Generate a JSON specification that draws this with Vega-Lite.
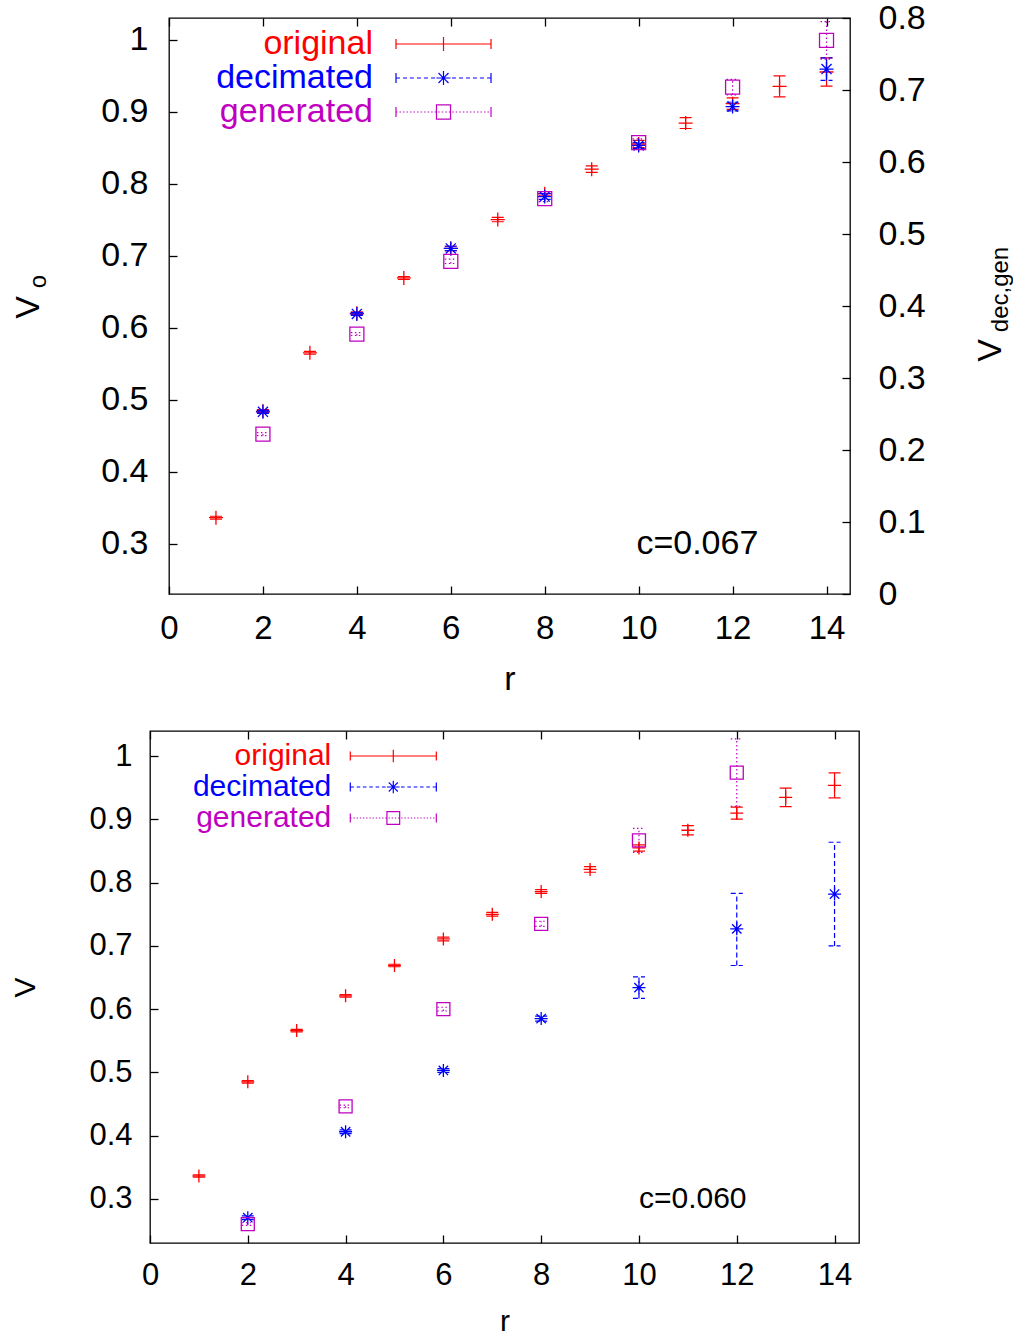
{
  "$schema": "https://vega.github.io/schema/vega-lite/v6.json",
  "padding": {"left": 9, "top": 0, "right": 0, "bottom": 0},
  "config": {
    "font": "Liberation Sans",
    "view": {"stroke": "#000000", "strokeWidth": 1.3},
    "axis": {"grid": false, "domain": false, "labelFlush": false, "labelOverlap": false, "labelColor": "#000000", "titleColor": "#000000", "tickColor": "#000000", "tickWidth": 1.3, "titleFontWeight": "normal", "labelFont": "Liberation Sans", "titleFont": "Liberation Sans"},
    "legend": {"labelFont": "Liberation Sans"},
    "text": {"font": "Liberation Sans"}
  },
  "datasets": {
    "top": [
      {"series": "original", "r": 1, "v": 0.336, "lo": 0.334, "hi": 0.338},
      {"series": "original", "r": 2, "v": 0.484, "lo": 0.482, "hi": 0.486},
      {"series": "original", "r": 3, "v": 0.565, "lo": 0.563, "hi": 0.567},
      {"series": "original", "r": 4, "v": 0.620, "lo": 0.618, "hi": 0.622},
      {"series": "original", "r": 5, "v": 0.669, "lo": 0.667, "hi": 0.671},
      {"series": "original", "r": 6, "v": 0.710, "lo": 0.707, "hi": 0.713},
      {"series": "original", "r": 7, "v": 0.750, "lo": 0.747, "hi": 0.753},
      {"series": "original", "r": 8, "v": 0.786, "lo": 0.783, "hi": 0.789},
      {"series": "original", "r": 9, "v": 0.820, "lo": 0.8155, "hi": 0.8245},
      {"series": "original", "r": 10, "v": 0.855, "lo": 0.850, "hi": 0.860},
      {"series": "original", "r": 11, "v": 0.884, "lo": 0.8765, "hi": 0.8915},
      {"series": "original", "r": 12, "v": 0.911, "lo": 0.903, "hi": 0.919},
      {"series": "original", "r": 13, "v": 0.935, "lo": 0.9205, "hi": 0.9495},
      {"series": "original", "r": 14, "v": 0.955, "lo": 0.9355, "hi": 0.9745},
      {"series": "decimated", "r": 2, "v": 0.253, "lo": 0.251, "hi": 0.255},
      {"series": "decimated", "r": 4, "v": 0.389, "lo": 0.387, "hi": 0.391},
      {"series": "decimated", "r": 6, "v": 0.480, "lo": 0.477, "hi": 0.483},
      {"series": "decimated", "r": 8, "v": 0.552, "lo": 0.548, "hi": 0.556},
      {"series": "decimated", "r": 10, "v": 0.623, "lo": 0.619, "hi": 0.627},
      {"series": "decimated", "r": 12, "v": 0.677, "lo": 0.671, "hi": 0.683},
      {"series": "decimated", "r": 14, "v": 0.729, "lo": 0.7135, "hi": 0.7445},
      {"series": "generated", "r": 2, "v": 0.222, "lo": 0.220, "hi": 0.224},
      {"series": "generated", "r": 4, "v": 0.361, "lo": 0.359, "hi": 0.363},
      {"series": "generated", "r": 6, "v": 0.462, "lo": 0.459, "hi": 0.465},
      {"series": "generated", "r": 8, "v": 0.549, "lo": 0.545, "hi": 0.553},
      {"series": "generated", "r": 10, "v": 0.627, "lo": 0.622, "hi": 0.632},
      {"series": "generated", "r": 12, "v": 0.704, "lo": 0.6933, "hi": 0.7147},
      {"series": "generated", "r": 14, "v": 0.769, "lo": 0.743, "hi": 0.795}
    ],
    "bottom": [
      {"series": "original", "r": 1, "v": 0.336, "lo": 0.334, "hi": 0.338},
      {"series": "original", "r": 2, "v": 0.485, "lo": 0.483, "hi": 0.487},
      {"series": "original", "r": 3, "v": 0.566, "lo": 0.564, "hi": 0.568},
      {"series": "original", "r": 4, "v": 0.621, "lo": 0.619, "hi": 0.623},
      {"series": "original", "r": 5, "v": 0.669, "lo": 0.667, "hi": 0.671},
      {"series": "original", "r": 6, "v": 0.711, "lo": 0.708, "hi": 0.714},
      {"series": "original", "r": 7, "v": 0.750, "lo": 0.747, "hi": 0.753},
      {"series": "original", "r": 8, "v": 0.786, "lo": 0.783, "hi": 0.789},
      {"series": "original", "r": 9, "v": 0.821, "lo": 0.8165, "hi": 0.8255},
      {"series": "original", "r": 10, "v": 0.855, "lo": 0.850, "hi": 0.860},
      {"series": "original", "r": 11, "v": 0.883, "lo": 0.8756, "hi": 0.8904},
      {"series": "original", "r": 12, "v": 0.910, "lo": 0.9005, "hi": 0.9195},
      {"series": "original", "r": 13, "v": 0.935, "lo": 0.9203, "hi": 0.9497},
      {"series": "original", "r": 14, "v": 0.954, "lo": 0.9343, "hi": 0.9737},
      {"series": "decimated", "r": 2, "v": 0.270, "lo": 0.267, "hi": 0.273},
      {"series": "decimated", "r": 4, "v": 0.406, "lo": 0.403, "hi": 0.409},
      {"series": "decimated", "r": 6, "v": 0.503, "lo": 0.500, "hi": 0.506},
      {"series": "decimated", "r": 8, "v": 0.585, "lo": 0.581, "hi": 0.589},
      {"series": "decimated", "r": 10, "v": 0.634, "lo": 0.617, "hi": 0.651},
      {"series": "decimated", "r": 12, "v": 0.727, "lo": 0.669, "hi": 0.783},
      {"series": "decimated", "r": 14, "v": 0.782, "lo": 0.700, "hi": 0.864},
      {"series": "generated", "r": 2, "v": 0.260, "lo": 0.258, "hi": 0.262},
      {"series": "generated", "r": 4, "v": 0.446, "lo": 0.444, "hi": 0.448},
      {"series": "generated", "r": 6, "v": 0.600, "lo": 0.597, "hi": 0.603},
      {"series": "generated", "r": 8, "v": 0.735, "lo": 0.731, "hi": 0.739},
      {"series": "generated", "r": 10, "v": 0.867, "lo": 0.848, "hi": 0.886},
      {"series": "generated", "r": 12, "v": 0.974, "lo": 0.9206, "hi": 1.0274}
    ]
  },
  "spacing": 32,
  "resolve": {"scale": {"color": "independent"}, "legend": {"color": "independent"}},
  "vconcat": [
    {
      "spacing": 0,
      "resolve": {"scale": {"color": "independent"}, "legend": {"color": "independent"}},
      "hconcat": [
        {"width": 1, "height": 1, "data": {"values": []}, "mark": {"type": "rule", "opacity": 0}, "encoding": {}, "view": {"stroke": null}},
        {
          "width": 681,
          "height": 576,
          "data": {"name": "top"},
          "resolve": {"scale": {"y": "independent"}, "axis": {"x": "independent"}},
          "layer": [
            {
              "resolve": {"axis": {"y": "independent"}},
              "layer": [
                {
                  "transform": [{"filter": "datum.series == 'original'"}],
                  "mark": {"type": "rule", "strokeWidth": 1.2, "clip": true},
                  "encoding": {
                    "x": {"field": "r", "type": "quantitative", "scale": {"domain": [0, 14.5], "nice": false, "zero": false},
                      "axis": {"orient": "bottom", "values": [0, 2, 4, 6, 8, 10, 12, 14], "tickSize": -8, "labelPadding": 42, "labelBaseline": "middle", "labelFontSize": 33, "title": "r", "titleFontSize": 34, "titleY": 85, "titleBaseline": "middle"}},
                    "y": {"field": "lo", "type": "quantitative", "scale": {"domain": [0.23, 1.03], "nice": false, "zero": false},
                      "axis": {"orient": "left", "values": [0.3, 0.4, 0.5, 0.6, 0.7, 0.8, 0.9, 1], "format": "~g", "tickSize": -8, "labelPadding": 29, "labelFontSize": 34, "title": "V", "titleFontSize": 34, "titleAngle": -90, "titleX": -141, "titleY": 289, "titleAlign": "center", "titleBaseline": "middle"}},
                    "y2": {"field": "hi"},
                    "color": {"field": "series", "type": "nominal", "scale": {"domain": ["original", "decimated", "generated"], "range": ["#ff0000", "#0000ff", "#c000c0"]},
                      "legend": {
                        "orient": "none", "legendX": 257.5, "legendY": 9, "title": null, "padding": 0, "rowPadding": 0,
                        "symbolSize": 1024, "symbolStrokeWidth": 1.2, "symbolOffset": 0, "symbolOpacity": 1,
                        "labelAlign": "right", "labelOffset": -87.5, "labelFontSize": 34, "labelLimit": 500, "labelBaseline": "middle",
                        "encode": {
                          "labels": {"update": {"fill": {"signal": "datum.value == 'original' ? '#ff0000' : datum.value == 'decimated' ? '#0000ff' : '#c000c0'"}}},
                          "symbols": {"update": {
                            "shape": {"signal": "datum.value == 'original' ? 'M-2.97,0H2.97M-2.97,-0.31V0.31M2.97,-0.31V0.31M0,-0.44V0.44' : datum.value == 'decimated' ? 'M-2.97,0H-2.72M-2.53,0H-2.28M-2.1,0H-1.85M-1.66,0H-1.41M-1.22,0H-0.97M-0.78,0H-0.53M-0.35,0H-0.1M0.09,0H0.34M0.53,0H0.78M0.97,0H1.22M1.41,0H1.66M1.84,0H2.09M2.28,0H2.53M2.72,0H2.97M-2.97,-0.31V0.31M2.97,-0.31V0.31M-0.44,0H0.44M0,-0.44V0.44M-0.31,-0.31L0.31,0.31M-0.31,0.31L0.31,-0.31' : 'M-2.97,0H-2.88M-2.75,0H-2.66M-2.53,0H-2.44M-2.31,0H-2.22M-2.09,0H-2M-1.87,0H-1.78M-1.65,0H-1.56M-1.43,0H-1.34M-1.21,0H-1.12M-0.99,0H-0.9M-0.77,0H-0.68M-0.55,0H-0.46M-0.33,0H-0.24M-0.11,0H-0.02M0.11,0H0.2M0.33,0H0.42M0.55,0H0.64M0.77,0H0.86M0.99,0H1.08M1.21,0H1.3M1.43,0H1.52M1.65,0H1.74M1.87,0H1.96M2.09,0H2.18M2.31,0H2.4M2.53,0H2.62M2.75,0H2.84M-2.97,-0.31V0.31M2.97,-0.31V0.31M-0.44,-0.44H0.44V0.44H-0.44Z'"},
                            "stroke": {"signal": "datum.value == 'original' ? '#ff0000' : datum.value == 'decimated' ? '#0000ff' : '#c000c0'"},
                            "fill": {"value": "transparent"},
                            "opacity": {"value": 1},
                            "strokeDash": {"value": [1, 0]},
                            "strokeWidth": {"value": 1.2}
                          }}
                        }
                      }},
                    "strokeDash": {"field": "series", "type": "nominal", "scale": {"domain": ["generated", "original", "decimated"], "range": [[1.5, 2.5], [1, 0], [5, 3]]}, "legend": null}
                  }
                },
                {
                  "transform": [{"filter": "datum.series == 'original'"}],
                  "mark": {"type": "point", "shape": "M-1,0H1", "filled": false, "size": 144, "strokeWidth": 1.2, "opacity": 1},
                  "encoding": {
                    "x": {"field": "r", "type": "quantitative", "scale": {"domain": [0, 14.5], "nice": false, "zero": false}},
                    "y": {"field": "lo", "type": "quantitative", "scale": {"domain": [0.23, 1.03], "nice": false, "zero": false}, "axis": null},
                    "color": {"field": "series", "type": "nominal", "scale": {"domain": ["original", "decimated", "generated"], "range": ["#ff0000", "#0000ff", "#c000c0"]}},
                    "strokeDash": {"field": "series", "type": "nominal", "scale": {"domain": ["generated", "original", "decimated"], "range": [[1.5, 2.5], [1, 0], [5, 3]]}, "legend": null}
                  }
                },
                {
                  "transform": [{"filter": "datum.series == 'original'"}],
                  "mark": {"type": "point", "shape": "M-1,0H1", "filled": false, "size": 144, "strokeWidth": 1.2, "opacity": 1},
                  "encoding": {
                    "x": {"field": "r", "type": "quantitative", "scale": {"domain": [0, 14.5], "nice": false, "zero": false}},
                    "y": {"field": "hi", "type": "quantitative", "scale": {"domain": [0.23, 1.03], "nice": false, "zero": false}, "axis": null},
                    "color": {"field": "series", "type": "nominal", "scale": {"domain": ["original", "decimated", "generated"], "range": ["#ff0000", "#0000ff", "#c000c0"]}},
                    "strokeDash": {"field": "series", "type": "nominal", "scale": {"domain": ["generated", "original", "decimated"], "range": [[1.5, 2.5], [1, 0], [5, 3]]}, "legend": null}
                  }
                },
                {
                  "transform": [{"filter": "datum.series == 'original'"}],
                  "mark": {"type": "point", "filled": false, "size": 196, "strokeWidth": 1.3, "opacity": 1},
                  "encoding": {
                    "x": {"field": "r", "type": "quantitative", "scale": {"domain": [0, 14.5], "nice": false, "zero": false}},
                    "y": {"field": "v", "type": "quantitative", "scale": {"domain": [0.23, 1.03], "nice": false, "zero": false},
                      "axis": {"orient": "left", "labels": false, "ticks": false, "title": "o", "titleFontSize": 24, "titleAngle": -90, "titleX": -131, "titleY": 263, "titleAlign": "center", "titleBaseline": "middle"}},
                    "shape": {"field": "series", "type": "nominal", "scale": {"domain": ["decimated", "generated", "original"], "range": ["M-1,0H1M0,-1V1M-0.72,-0.72L0.72,0.72M-0.72,0.72L0.72,-0.72", "M-1,-1H1V1H-1Z", "M-1,0H1M0,-1V1"]}, "legend": null},
                    "color": {"field": "series", "type": "nominal", "scale": {"domain": ["original", "decimated", "generated"], "range": ["#ff0000", "#0000ff", "#c000c0"]}}
                  }
                },
                {
                  "data": {"values": [{"label": "c=0.067"}]},
                  "mark": {"type": "text", "fontSize": 34, "align": "center", "baseline": "middle", "color": "#000000"},
                  "encoding": {
                    "x": {"datum": 11.25, "type": "quantitative", "scale": {"domain": [0, 14.5], "nice": false, "zero": false}},
                    "y": {"datum": 0.3, "type": "quantitative", "scale": {"domain": [0.23, 1.03], "nice": false, "zero": false}, "axis": null},
                    "text": {"field": "label"}
                  }
                }
              ]
            },
            {
              "resolve": {"axis": {"y": "independent"}},
              "layer": [
                {
                  "transform": [{"filter": "datum.series != 'original'"}],
                  "mark": {"type": "rule", "strokeWidth": 1.2, "clip": true},
                  "encoding": {
                    "x": {"field": "r", "type": "quantitative", "scale": {"domain": [0, 14.5], "nice": false, "zero": false},
                      "axis": {"orient": "top", "values": [0, 2, 4, 6, 8, 10, 12, 14], "tickSize": -8, "labels": false, "title": null}},
                    "y": {"field": "lo", "type": "quantitative", "scale": {"domain": [0, 0.8], "nice": false, "zero": false},
                      "axis": {"orient": "right", "values": [0, 0.1, 0.2, 0.3, 0.4, 0.5, 0.6, 0.7, 0.8], "format": "~g", "tickSize": -8, "labelPadding": 36, "labelFontSize": 34, "title": "V", "titleFontSize": 34, "titleAngle": -90, "titleX": 140, "titleY": 332, "titleAlign": "center", "titleBaseline": "middle"}},
                    "y2": {"field": "hi"},
                    "color": {"field": "series", "type": "nominal", "scale": {"domain": ["original", "decimated", "generated"], "range": ["#ff0000", "#0000ff", "#c000c0"]}},
                    "strokeDash": {"field": "series", "type": "nominal", "scale": {"domain": ["generated", "original", "decimated"], "range": [[1.5, 2.5], [1, 0], [5, 3]]}, "legend": null}
                  }
                },
                {
                  "transform": [{"filter": "datum.series != 'original'"}],
                  "mark": {"type": "point", "shape": "M-1,0H1", "filled": false, "size": 144, "strokeWidth": 1.2, "opacity": 1},
                  "encoding": {
                    "x": {"field": "r", "type": "quantitative", "scale": {"domain": [0, 14.5], "nice": false, "zero": false}},
                    "y": {"field": "lo", "type": "quantitative", "scale": {"domain": [0, 0.8], "nice": false, "zero": false}, "axis": null},
                    "color": {"field": "series", "type": "nominal", "scale": {"domain": ["original", "decimated", "generated"], "range": ["#ff0000", "#0000ff", "#c000c0"]}},
                    "strokeDash": {"field": "series", "type": "nominal", "scale": {"domain": ["generated", "original", "decimated"], "range": [[1.5, 2.5], [1, 0], [5, 3]]}, "legend": null}
                  }
                },
                {
                  "transform": [{"filter": "datum.series != 'original'"}],
                  "mark": {"type": "point", "shape": "M-1,0H1", "filled": false, "size": 144, "strokeWidth": 1.2, "opacity": 1},
                  "encoding": {
                    "x": {"field": "r", "type": "quantitative", "scale": {"domain": [0, 14.5], "nice": false, "zero": false}},
                    "y": {"field": "hi", "type": "quantitative", "scale": {"domain": [0, 0.8], "nice": false, "zero": false}, "axis": null},
                    "color": {"field": "series", "type": "nominal", "scale": {"domain": ["original", "decimated", "generated"], "range": ["#ff0000", "#0000ff", "#c000c0"]}},
                    "strokeDash": {"field": "series", "type": "nominal", "scale": {"domain": ["generated", "original", "decimated"], "range": [[1.5, 2.5], [1, 0], [5, 3]]}, "legend": null}
                  }
                },
                {
                  "transform": [{"filter": "datum.series != 'original'"}],
                  "mark": {"type": "point", "filled": false, "size": 196, "strokeWidth": 1.3, "opacity": 1},
                  "encoding": {
                    "x": {"field": "r", "type": "quantitative", "scale": {"domain": [0, 14.5], "nice": false, "zero": false}},
                    "y": {"field": "v", "type": "quantitative", "scale": {"domain": [0, 0.8], "nice": false, "zero": false},
                      "axis": {"orient": "right", "labels": false, "ticks": false, "title": "dec,gen", "titleFontSize": 24, "titleAngle": -90, "titleX": 150, "titleY": 271, "titleAlign": "center", "titleBaseline": "middle"}},
                    "shape": {"field": "series", "type": "nominal", "scale": {"domain": ["decimated", "generated", "original"], "range": ["M-1,0H1M0,-1V1M-0.72,-0.72L0.72,0.72M-0.72,0.72L0.72,-0.72", "M-1,-1H1V1H-1Z", "M-1,0H1M0,-1V1"]}, "legend": null},
                    "color": {"field": "series", "type": "nominal", "scale": {"domain": ["original", "decimated", "generated"], "range": ["#ff0000", "#0000ff", "#c000c0"]}}
                  }
                }
              ]
            }
          ]
        }
      ]
    },
    {
      "spacing": 0,
      "resolve": {"scale": {"color": "independent"}, "legend": {"color": "independent"}},
      "hconcat": [
        {"width": 1, "height": 1, "data": {"values": []}, "mark": {"type": "rule", "opacity": 0}, "encoding": {}, "view": {"stroke": null}},
        {
          "width": 709,
          "height": 512,
          "data": {"name": "bottom"},
          "resolve": {"axis": {"x": "independent"}},
          "layer": [
            {
              "mark": {"type": "rule", "strokeWidth": 1.2, "clip": true},
              "encoding": {
                "x": {"field": "r", "type": "quantitative", "scale": {"domain": [0, 14.5], "nice": false, "zero": false},
                  "axis": {"orient": "bottom", "values": [0, 2, 4, 6, 8, 10, 12, 14], "tickSize": -8, "labelPadding": 40, "labelBaseline": "middle", "labelFontSize": 31, "title": "r", "titleFontSize": 30, "titleY": 78, "titleBaseline": "middle"}},
                "y": {"field": "lo", "type": "quantitative", "scale": {"domain": [0.23, 1.04], "nice": false, "zero": false},
                  "axis": {"orient": "left", "values": [0.3, 0.4, 0.5, 0.6, 0.7, 0.8, 0.9, 1], "format": "~g", "tickSize": -8, "labelPadding": 26, "labelFontSize": 31, "title": "V", "titleFontSize": 30, "titleAngle": -90, "titleX": -124.3, "titleY": 256, "titleAlign": "center", "titleBaseline": "middle"}},
                "y2": {"field": "hi"},
                "color": {"field": "series", "type": "nominal", "scale": {"domain": ["original", "decimated", "generated"], "range": ["#ff0000", "#0000ff", "#c000c0"]},
                  "legend": {
                    "orient": "none", "legendX": 227.8, "legendY": 9.5, "title": null, "padding": 0, "rowPadding": -1.5,
                    "symbolSize": 839, "symbolStrokeWidth": 1.2, "symbolOffset": 0, "symbolOpacity": 1,
                    "labelAlign": "right", "labelOffset": -77.5, "labelFontSize": 30, "labelLimit": 500, "labelBaseline": "middle",
                    "encode": {
                      "labels": {"update": {"fill": {"signal": "datum.value == 'original' ? '#ff0000' : datum.value == 'decimated' ? '#0000ff' : '#c000c0'"}}},
                      "symbols": {"update": {
                        "shape": {"signal": "datum.value == 'original' ? 'M-2.97,0H2.97M-2.97,-0.31V0.31M2.97,-0.31V0.31M0,-0.44V0.44' : datum.value == 'decimated' ? 'M-2.97,0H-2.72M-2.53,0H-2.28M-2.1,0H-1.85M-1.66,0H-1.41M-1.22,0H-0.97M-0.78,0H-0.53M-0.35,0H-0.1M0.09,0H0.34M0.53,0H0.78M0.97,0H1.22M1.41,0H1.66M1.84,0H2.09M2.28,0H2.53M2.72,0H2.97M-2.97,-0.31V0.31M2.97,-0.31V0.31M-0.44,0H0.44M0,-0.44V0.44M-0.31,-0.31L0.31,0.31M-0.31,0.31L0.31,-0.31' : 'M-2.97,0H-2.88M-2.75,0H-2.66M-2.53,0H-2.44M-2.31,0H-2.22M-2.09,0H-2M-1.87,0H-1.78M-1.65,0H-1.56M-1.43,0H-1.34M-1.21,0H-1.12M-0.99,0H-0.9M-0.77,0H-0.68M-0.55,0H-0.46M-0.33,0H-0.24M-0.11,0H-0.02M0.11,0H0.2M0.33,0H0.42M0.55,0H0.64M0.77,0H0.86M0.99,0H1.08M1.21,0H1.3M1.43,0H1.52M1.65,0H1.74M1.87,0H1.96M2.09,0H2.18M2.31,0H2.4M2.53,0H2.62M2.75,0H2.84M-2.97,-0.31V0.31M2.97,-0.31V0.31M-0.44,-0.44H0.44V0.44H-0.44Z'"},
                        "stroke": {"signal": "datum.value == 'original' ? '#ff0000' : datum.value == 'decimated' ? '#0000ff' : '#c000c0'"},
                        "fill": {"value": "transparent"},
                        "opacity": {"value": 1},
                        "strokeDash": {"value": [1, 0]},
                        "strokeWidth": {"value": 1.2}
                      }}
                    }
                  }},
                "strokeDash": {"field": "series", "type": "nominal", "scale": {"domain": ["generated", "original", "decimated"], "range": [[1.5, 2.5], [1, 0], [5, 3]]}, "legend": null}
              }
            },
            {
              "mark": {"type": "point", "shape": "M-1,0H1", "filled": false, "size": 144, "strokeWidth": 1.2, "opacity": 1},
              "encoding": {
                "x": {"field": "r", "type": "quantitative", "scale": {"domain": [0, 14.5], "nice": false, "zero": false}, "axis": null},
                "y": {"field": "lo", "type": "quantitative", "scale": {"domain": [0.23, 1.04], "nice": false, "zero": false}},
                "color": {"field": "series", "type": "nominal", "scale": {"domain": ["original", "decimated", "generated"], "range": ["#ff0000", "#0000ff", "#c000c0"]}},
                "strokeDash": {"field": "series", "type": "nominal", "scale": {"domain": ["generated", "original", "decimated"], "range": [[1.5, 2.5], [1, 0], [5, 3]]}, "legend": null}
              }
            },
            {
              "mark": {"type": "point", "shape": "M-1,0H1", "filled": false, "size": 144, "strokeWidth": 1.2, "opacity": 1},
              "encoding": {
                "x": {"field": "r", "type": "quantitative", "scale": {"domain": [0, 14.5], "nice": false, "zero": false}, "axis": null},
                "y": {"field": "hi", "type": "quantitative", "scale": {"domain": [0.23, 1.04], "nice": false, "zero": false}},
                "color": {"field": "series", "type": "nominal", "scale": {"domain": ["original", "decimated", "generated"], "range": ["#ff0000", "#0000ff", "#c000c0"]}},
                "strokeDash": {"field": "series", "type": "nominal", "scale": {"domain": ["generated", "original", "decimated"], "range": [[1.5, 2.5], [1, 0], [5, 3]]}, "legend": null}
              }
            },
            {
              "mark": {"type": "point", "filled": false, "size": 169, "strokeWidth": 1.3, "opacity": 1},
              "encoding": {
                "x": {"field": "r", "type": "quantitative", "scale": {"domain": [0, 14.5], "nice": false, "zero": false},
                  "axis": {"orient": "top", "values": [0, 2, 4, 6, 8, 10, 12, 14], "tickSize": -8, "labels": false, "title": null}},
                "y": {"field": "v", "type": "quantitative", "scale": {"domain": [0.23, 1.04], "nice": false, "zero": false}},
                "shape": {"field": "series", "type": "nominal", "scale": {"domain": ["decimated", "generated", "original"], "range": ["M-1,0H1M0,-1V1M-0.72,-0.72L0.72,0.72M-0.72,0.72L0.72,-0.72", "M-1,-1H1V1H-1Z", "M-1,0H1M0,-1V1"]}, "legend": null},
                "color": {"field": "series", "type": "nominal", "scale": {"domain": ["original", "decimated", "generated"], "range": ["#ff0000", "#0000ff", "#c000c0"]}}
              }
            },
            {
              "data": {"values": [{"label": "c=0.060"}]},
              "mark": {"type": "text", "fontSize": 30, "align": "center", "baseline": "middle", "color": "#000000"},
              "encoding": {
                "x": {"datum": 11.1, "type": "quantitative", "scale": {"domain": [0, 14.5], "nice": false, "zero": false}, "axis": null},
                "y": {"datum": 0.3, "type": "quantitative", "scale": {"domain": [0.23, 1.04], "nice": false, "zero": false}},
                "text": {"field": "label"}
              }
            }
          ]
        }
      ]
    }
  ]
}
